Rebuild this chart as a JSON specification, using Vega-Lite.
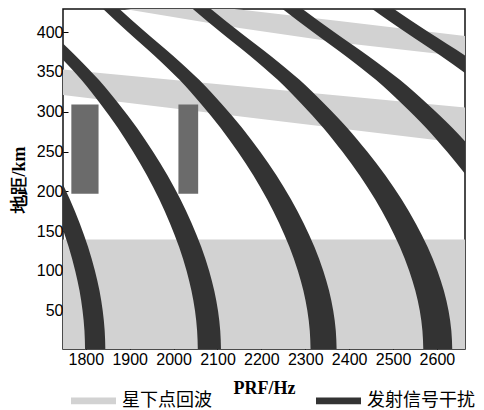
{
  "$schema": "https://vega.github.io/schema/vega-lite/v6.json",
  "width": 402,
  "height": 340,
  "autosize": {"type": "none"},
  "padding": {"left": 63, "top": 9, "right": 19, "bottom": 61},
  "config": {
    "view": {"stroke": "#111111", "strokeWidth": 1.5},
    "axis": {
      "domain": false,
      "grid": false,
      "zindex": 1,
      "labelFont": "Liberation Sans",
      "labelFontSize": 16,
      "labelColor": "#000000",
      "tickColor": "#000000",
      "tickSize": -5,
      "titleFont": "Liberation Serif",
      "titleFontWeight": "bold",
      "titleFontSize": 18,
      "titleColor": "#000000"
    }
  },
  "datasets": {
    "nadir": [
      {"band": "n1", "x": 1740, "lo": 0, "hi": 139.5},
      {"band": "n1", "x": 2670, "lo": 0, "hi": 139.5},
      {"band": "n2", "x": 1740, "lo": 321.6, "hi": 353.5},
      {"band": "n2", "x": 2200, "lo": 290.9, "hi": 329.5},
      {"band": "n2", "x": 2670, "lo": 259.6, "hi": 305.1},
      {"band": "n3", "x": 1880, "lo": 429.8, "hi": 445},
      {"band": "n3", "x": 2150, "lo": 405, "hi": 428.3},
      {"band": "n3", "x": 2377, "lo": 387, "hi": 414},
      {"band": "n3", "x": 2670, "lo": 368.5, "hi": 394.6}
    ],
    "tx": [
      {"curve": "A", "g": 0, "L": 1798.3, "R": 1844.5},
      {"curve": "A", "g": 25, "L": 1796.9, "R": 1843.0},
      {"curve": "A", "g": 50, "L": 1792.6, "R": 1838.5},
      {"curve": "A", "g": 75, "L": 1785.7, "R": 1831.2},
      {"curve": "A", "g": 100, "L": 1775.9, "R": 1820.9},
      {"curve": "A", "g": 130, "L": 1761.0, "R": 1805.2},
      {"curve": "A", "g": 160, "L": 1742.7, "R": 1786.0},
      {"curve": "A", "g": 190, "L": 1721.3, "R": 1763.5},
      {"curve": "A", "g": 220, "L": 1697.0, "R": 1738.0},
      {"curve": "A", "g": 250, "L": 1669.1, "R": 1708.7},
      {"curve": "B", "g": 0, "L": 2055.2, "R": 2108.0},
      {"curve": "B", "g": 25, "L": 2053.6, "R": 2106.3},
      {"curve": "B", "g": 50, "L": 2048.8, "R": 2101.2},
      {"curve": "B", "g": 75, "L": 2040.7, "R": 2092.7},
      {"curve": "B", "g": 100, "L": 2029.7, "R": 2081.1},
      {"curve": "B", "g": 130, "L": 2012.6, "R": 2063.1},
      {"curve": "B", "g": 160, "L": 1991.6, "R": 2041.1},
      {"curve": "B", "g": 190, "L": 1967.3, "R": 2015.5},
      {"curve": "B", "g": 220, "L": 1939.4, "R": 1986.3},
      {"curve": "B", "g": 250, "L": 1907.5, "R": 1952.8},
      {"curve": "B", "g": 280, "L": 1872.8, "R": 1916.4},
      {"curve": "B", "g": 310, "L": 1833.1, "R": 1874.8},
      {"curve": "B", "g": 340, "L": 1789.8, "R": 1829.5},
      {"curve": "B", "g": 370, "L": 1739.7, "R": 1777.2},
      {"curve": "B", "g": 400, "L": 1685.3, "R": 1720.5},
      {"curve": "C", "g": 0, "L": 2312.1, "R": 2371.5},
      {"curve": "C", "g": 25, "L": 2310.3, "R": 2369.6},
      {"curve": "C", "g": 50, "L": 2304.8, "R": 2363.8},
      {"curve": "C", "g": 75, "L": 2295.8, "R": 2354.3},
      {"curve": "C", "g": 100, "L": 2283.3, "R": 2341.2},
      {"curve": "C", "g": 130, "L": 2264.1, "R": 2321.0},
      {"curve": "C", "g": 160, "L": 2240.6, "R": 2296.3},
      {"curve": "C", "g": 190, "L": 2213.1, "R": 2267.4},
      {"curve": "C", "g": 220, "L": 2181.9, "R": 2234.6},
      {"curve": "C", "g": 250, "L": 2146.0, "R": 2196.9},
      {"curve": "C", "g": 280, "L": 2106.8, "R": 2155.9},
      {"curve": "C", "g": 310, "L": 2062.1, "R": 2109.1},
      {"curve": "C", "g": 340, "L": 2013.5, "R": 2058.2},
      {"curve": "C", "g": 370, "L": 1957.1, "R": 1999.3},
      {"curve": "C", "g": 400, "L": 1896.0, "R": 1935.5},
      {"curve": "C", "g": 430, "L": 1837.6, "R": 1874.7},
      {"curve": "C", "g": 445, "L": 1810.3, "R": 1846.3},
      {"curve": "D", "g": 0, "L": 2569.0, "R": 2635.0},
      {"curve": "D", "g": 25, "L": 2567.0, "R": 2632.9},
      {"curve": "D", "g": 50, "L": 2561.0, "R": 2626.5},
      {"curve": "D", "g": 75, "L": 2550.9, "R": 2615.9},
      {"curve": "D", "g": 100, "L": 2537.0, "R": 2601.3},
      {"curve": "D", "g": 130, "L": 2515.7, "R": 2578.9},
      {"curve": "D", "g": 160, "L": 2489.6, "R": 2551.4},
      {"curve": "D", "g": 190, "L": 2459.1, "R": 2519.4},
      {"curve": "D", "g": 220, "L": 2424.2, "R": 2482.8},
      {"curve": "D", "g": 250, "L": 2384.4, "R": 2441.0},
      {"curve": "D", "g": 280, "L": 2340.9, "R": 2395.4},
      {"curve": "D", "g": 310, "L": 2291.2, "R": 2343.4},
      {"curve": "D", "g": 340, "L": 2237.2, "R": 2286.9},
      {"curve": "D", "g": 370, "L": 2174.6, "R": 2221.5},
      {"curve": "D", "g": 400, "L": 2106.7, "R": 2150.6},
      {"curve": "D", "g": 430, "L": 2041.8, "R": 2083.0},
      {"curve": "D", "g": 445, "L": 2011.4, "R": 2051.4},
      {"curve": "E", "g": 190, "L": 2705.0, "R": 2771.3},
      {"curve": "E", "g": 220, "L": 2666.7, "R": 2731.1},
      {"curve": "E", "g": 250, "L": 2622.8, "R": 2685.1},
      {"curve": "E", "g": 280, "L": 2575.0, "R": 2635.0},
      {"curve": "E", "g": 310, "L": 2520.4, "R": 2577.8},
      {"curve": "E", "g": 340, "L": 2461.0, "R": 2515.6},
      {"curve": "E", "g": 370, "L": 2392.0, "R": 2443.6},
      {"curve": "E", "g": 400, "L": 2317.4, "R": 2365.7},
      {"curve": "E", "g": 430, "L": 2246.0, "R": 2291.3},
      {"curve": "E", "g": 445, "L": 2212.5, "R": 2256.5},
      {"curve": "F", "g": 310, "L": 2749.5, "R": 2812.1},
      {"curve": "F", "g": 340, "L": 2684.6, "R": 2744.2},
      {"curve": "F", "g": 370, "L": 2609.5, "R": 2665.8},
      {"curve": "F", "g": 400, "L": 2528.0, "R": 2580.7},
      {"curve": "F", "g": 430, "L": 2450.1, "R": 2499.6},
      {"curve": "F", "g": 445, "L": 2413.7, "R": 2461.7}
    ],
    "win": [
      {"id": "w1", "x1": 1767, "x2": 1829, "y1": 197, "y2": 309},
      {"id": "w2", "x1": 2011, "x2": 2056, "y1": 197, "y2": 309}
    ]
  },
  "layer": [
    {
      "data": {"name": "nadir"},
      "mark": {"type": "area", "clip": true, "opacity": 1},
      "encoding": {
        "x": {
          "field": "x",
          "type": "quantitative",
          "scale": {"domain": [1748, 2664], "nice": false, "zero": false},
          "axis": {"title": "PRF/Hz", "format": "d", "values": [1800, 1900, 2000, 2100, 2200, 2300, 2400, 2500, 2600], "labelPadding": 7, "titleBaseline": "alphabetic", "titleY": 44}
        },
        "y": {
          "field": "lo",
          "type": "quantitative",
          "scale": {"domain": [2, 429], "nice": false, "zero": false},
          "axis": {"title": "地距/km", "format": "d", "values": [50, 100, 150, 200, 250, 300, 350, 400], "labelPadding": 5, "titleBaseline": "alphabetic", "titleX": -39}
        },
        "y2": {"field": "hi"},
        "detail": {"field": "band"},
        "color": {
          "datum": "星下点回波",
          "scale": {"domain": ["星下点回波", "发射信号干扰"], "range": ["#d2d2d2", "#333333"]},
          "legend": {
            "orient": "none",
            "legendX": 8,
            "legendY": 369,
            "direction": "horizontal",
            "title": null,
            "symbolType": "M-1,-0.15L1,-0.15L1,0.15L-1,0.15Z",
            "symbolSize": 2025,
            "symbolStrokeWidth": 0,
            "symbolOpacity": 1,
            "labelFont": "Noto Sans CJK SC",
            "labelFontSize": 18,
            "labelColor": "#000000",
            "labelOffset": 6,
            "columnPadding": 104,
            "padding": 0
          }
        }
      }
    },
    {
      "data": {"name": "tx"},
      "mark": {"type": "area", "orient": "horizontal", "interpolate": "monotone", "clip": true, "opacity": 1},
      "encoding": {
        "y": {"field": "g", "type": "quantitative", "title": "地距/km"},
        "x": {"field": "L", "type": "quantitative", "title": "PRF/Hz"},
        "x2": {"field": "R"},
        "detail": {"field": "curve"},
        "color": {"datum": "发射信号干扰"}
      }
    },
    {
      "data": {"name": "win"},
      "mark": {"type": "rect", "color": "#6b6b6b", "clip": true},
      "encoding": {
        "x": {"field": "x1", "type": "quantitative", "title": "PRF/Hz"},
        "x2": {"field": "x2"},
        "y": {"field": "y1", "type": "quantitative", "title": "地距/km"},
        "y2": {"field": "y2"}
      }
    }
  ]
}
